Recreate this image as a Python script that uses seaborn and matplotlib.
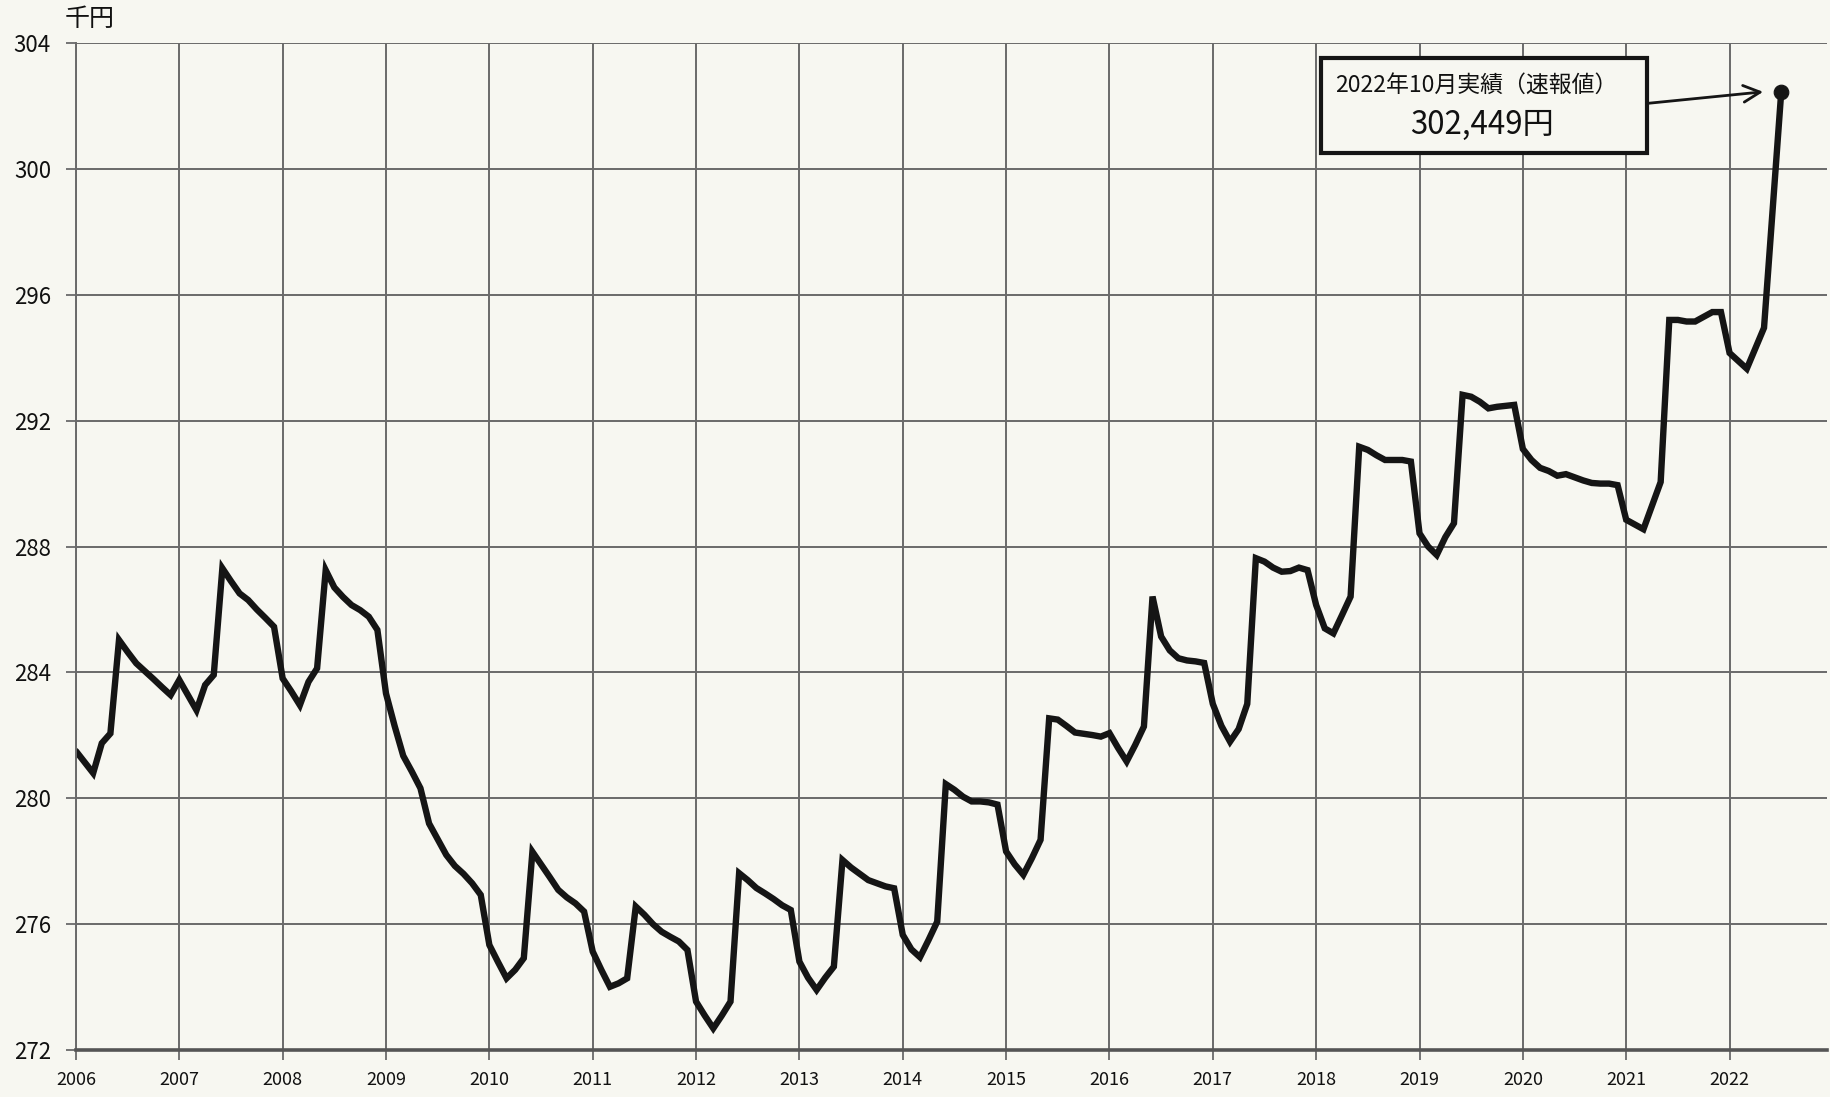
"""
Monthly wage trend chart (thousand yen), 2006 - Oct 2022
"""

import numpy as np
import pandas as pd
import matplotlib
matplotlib.use("Agg")
import matplotlib.pyplot as plt
from matplotlib.patches import Rectangle
import seaborn as sns

# ========== DATA ==========
# Monthly values in thousand yen, one list per axis year (12 points per year tick)
wage_2006 = [281.5, 281.15, 280.8, 281.75, 282.06, 285.03, 284.65, 284.29, 284.04, 283.79, 283.53, 283.28]
wage_2007 = [283.76, 283.28, 282.8, 283.6, 283.92, 287.31, 286.9, 286.51, 286.3, 286.0, 285.73, 285.45]
wage_2008 = [283.81, 283.4, 282.96, 283.7, 284.13, 287.25, 286.7, 286.4, 286.14, 285.98, 285.77, 285.35]
wage_2009 = [283.33, 282.3, 281.35, 280.85, 280.32, 279.2, 278.7, 278.2, 277.85, 277.6, 277.3, 276.93]
wage_2010 = [275.34, 274.8, 274.28, 274.55, 274.92, 278.3, 277.9, 277.5, 277.09, 276.85, 276.66, 276.4]
wage_2011 = [275.13, 274.55, 274.01, 274.12, 274.28, 276.56, 276.3, 276.0, 275.76, 275.6, 275.45, 275.18]
wage_2012 = [273.54, 273.1, 272.69, 273.1, 273.54, 277.62, 277.4, 277.15, 276.98, 276.8, 276.6, 276.45]
wage_2013 = [274.81, 274.3, 273.91, 274.3, 274.65, 278.04, 277.8, 277.6, 277.4, 277.3, 277.2, 277.14]
wage_2014 = [275.66, 275.2, 274.95, 275.5, 276.08, 280.45, 280.27, 280.05, 279.9, 279.9, 279.87, 279.8]
wage_2015 = [278.31, 277.9, 277.57, 278.1, 278.68, 282.54, 282.5, 282.3, 282.09, 282.05, 282.01, 281.96]
wage_2016 = [282.07, 281.6, 281.17, 281.7, 282.28, 286.41, 285.14, 284.7, 284.45, 284.38, 284.35, 284.3]
wage_2017 = [283.0, 282.3, 281.8, 282.2, 283.0, 287.63, 287.52, 287.33, 287.2, 287.22, 287.33, 287.25]
wage_2018 = [286.14, 285.4, 285.24, 285.82, 286.41, 291.17, 291.07, 290.9, 290.75, 290.75, 290.75, 290.7]
wage_2019 = [288.42, 288.0, 287.73, 288.3, 288.74, 292.82, 292.76, 292.6, 292.39, 292.44, 292.47, 292.5]
wage_2020 = [291.1, 290.75, 290.5, 290.4, 290.25, 290.3, 290.2, 290.1, 290.02, 290.0, 290.0, 289.95]
wage_2021 = [288.85, 288.7, 288.55, 289.3, 290.05, 295.2, 295.2, 295.15, 295.15, 295.3, 295.45, 295.45]
wage_2022 = [294.15, 293.9, 293.65, 294.3, 294.95, 298.7, 302.449]

year_labels = ["2006", "2007", "2008", "2009", "2010", "2011", "2012", "2013", "2014",
               "2015", "2016", "2017", "2018", "2019", "2020", "2021", "2022"]
y_ticks = [272, 276, 280, 284, 288, 292, 296, 300, 304]

unit_label = "千円"
latest_title = "2022年10月実績（速報値）"
latest_value = "302,449円"

# ========== STYLE ==========
sns.set_theme(style="white")
plt.rcParams['font.family'] = ['Noto Sans CJK JP', 'DejaVu Sans']
BG = '#f7f7f1'
GRID = '#6a6a6a'
INK = '#151515'

wages = (wage_2006 + wage_2007 + wage_2008 + wage_2009 + wage_2010 + wage_2011 +
         wage_2012 + wage_2013 + wage_2014 + wage_2015 + wage_2016 + wage_2017 +
         wage_2018 + wage_2019 + wage_2020 + wage_2021 + wage_2022)
df = pd.DataFrame({'month': np.arange(len(wages)), 'wage': wages})

# ========== PLOT ==========
fig = plt.figure(figsize=(18.3, 10.97), dpi=100, facecolor=BG)
ax = fig.add_axes([0.0415, 0.0428, 0.9568, 0.918])
ax.set_facecolor(BG)

sns.lineplot(data=df, x='month', y='wage', ax=ax, color=INK, lw=4.6,
             estimator=None, solid_joinstyle='miter', zorder=2)
sns.scatterplot(data=df.tail(1), x='month', y='wage', ax=ax, color=INK,
                s=110, edgecolor=INK, zorder=3)

ax.set_xlim(0, 203.3)
ax.set_ylim(272, 304)
ax.set_xticks(np.arange(0, 12 * len(year_labels), 12))
ax.set_xticklabels(year_labels)
ax.set_yticks(y_ticks)
ax.set_xlabel('')
ax.set_ylabel('')

ax.grid(True, color=GRID, lw=1.4)
ax.set_axisbelow(True)
ax.tick_params(axis='both', direction='out', length=7, width=1.3, color=GRID,
               left=True, bottom=True, labelcolor='#111111')
ax.tick_params(axis='y', labelsize=16, pad=11)
ax.tick_params(axis='x', labelsize=13, pad=8)

for side in ['top', 'right']:
    ax.spines[side].set_visible(False)
ax.spines['left'].set_color(GRID)
ax.spines['left'].set_linewidth(1.4)
ax.spines['bottom'].set_color('#555555')
ax.spines['bottom'].set_linewidth(2.6)

fig.text(0.0355, 0.983, unit_label, fontsize=18, ha='left', va='center', color='#111111')

# ------ callout for the latest value ------
last_m = df['month'].iloc[-1]
last_v = df['wage'].iloc[-1]
ax.add_patch(Rectangle((144.6, 300.49), 37.8, 3.02, facecolor=BG, edgecolor=INK,
                       lw=3, zorder=4, clip_on=False))
ax.text(146.2, 302.66, latest_title, fontsize=16.5, ha='left', va='center',
        color='#111111', zorder=5)
ax.text(163.3, 301.39, latest_value, fontsize=22.5, ha='center', va='center',
        color='#111111', zorder=5)
ax.annotate('', xy=(last_m - 2.1, last_v), xytext=(182.4, 302.08),
            arrowprops=dict(arrowstyle='->', lw=2, color=INK, mutation_scale=30,
                            shrinkA=0, shrinkB=0), zorder=5)

fig.savefig('out.png', dpi=100, facecolor=BG)
